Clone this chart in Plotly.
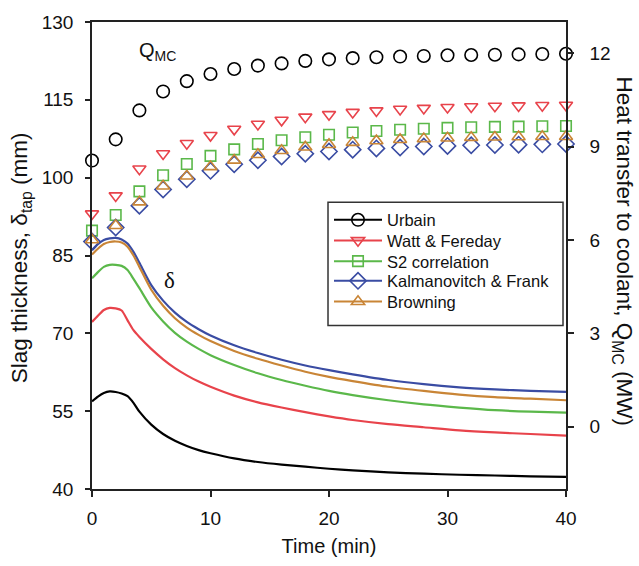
import plotly.graph_objects as go

# Slag thickness at tap (left axis, mm), continuous model curves
t_line = [0, 0.5, 1, 1.5, 2, 2.5, 3, 3.5, 4, 5, 6, 7, 8, 9, 10, 12, 14, 16, 18,
          20, 22, 25, 28, 31, 34, 37, 40]
delta_urbain = [56.9, 57.8, 58.5, 58.8, 58.7, 58.4, 57.9, 56.6, 54.9, 52.4, 50.6,
                49.3, 48.3, 47.5, 46.9, 45.9, 45.2, 44.7, 44.3, 43.9, 43.6, 43.2,
                42.95, 42.75, 42.6, 42.45, 42.35]
delta_watt = [72.2, 73.4, 74.5, 74.9, 74.8, 74.4, 72.5, 70.6, 69.3, 67.0, 65.0,
              63.3, 61.9, 60.7, 59.7, 58.0, 56.7, 55.7, 54.8, 54.0, 53.3, 52.5,
              51.9, 51.3, 50.9, 50.6, 50.3]
delta_s2 = [80.6, 81.8, 82.8, 83.2, 83.2, 83.0, 82.2, 80.5, 78.7, 75.0, 72.3,
            70.1, 68.4, 67.0, 65.8, 63.9, 62.3, 61.0, 59.9, 58.9, 58.1, 57.1,
            56.3, 55.7, 55.2, 54.9, 54.7]
delta_kalman = [86.0, 87.2, 88.0, 88.3, 88.4, 88.1, 87.3, 85.7, 83.6, 79.3, 76.3,
                74.0, 72.2, 70.8, 69.6, 67.7, 66.2, 64.9, 63.8, 62.9, 62.1, 61.0,
                60.2, 59.6, 59.2, 58.9, 58.7]
delta_browning = [85.2, 86.3, 87.2, 87.6, 87.7, 87.5, 86.7, 85.0, 82.8, 78.4, 75.3,
                  72.9, 71.1, 69.7, 68.5, 66.6, 65.1, 63.8, 62.6, 61.6, 60.8, 59.7,
                  58.9, 58.2, 57.7, 57.4, 57.1]

# Heat transfer to coolant (right axis, MW), sampled every 2 min
t_q = list(range(0, 41, 2))
q_urbain = [8.55, 9.23, 10.16, 10.77, 11.1, 11.33, 11.49, 11.6, 11.67, 11.75, 11.8,
            11.84, 11.87, 11.89, 11.91, 11.93, 11.94, 11.95, 11.96, 11.97, 11.98]
q_watt = [6.84, 7.42, 8.28, 8.77, 9.1, 9.36, 9.56, 9.72, 9.85, 9.95, 10.03, 10.1,
          10.15, 10.2, 10.23, 10.26, 10.28, 10.3, 10.31, 10.32, 10.33]
q_s2 = [6.3, 6.8, 7.56, 8.08, 8.44, 8.7, 8.91, 9.08, 9.2, 9.3, 9.38, 9.45, 9.5,
        9.54, 9.57, 9.6, 9.62, 9.63, 9.64, 9.65, 9.66]
q_kalman = [5.95, 6.4, 7.1, 7.62, 7.95, 8.22, 8.43, 8.56, 8.68, 8.77, 8.84, 8.9,
            8.94, 8.97, 9.0, 9.02, 9.04, 9.05, 9.06, 9.07, 9.08]
q_browning = [6.0, 6.46, 7.22, 7.73, 8.05, 8.35, 8.56, 8.74, 8.87, 8.98, 9.06, 9.13,
              9.18, 9.22, 9.25, 9.27, 9.29, 9.3, 9.31, 9.32, 9.32]

names = ["Urbain", "Watt & Fereday", "S2 correlation", "Kalmanovitch & Frank", "Browning"]
colors = ["#000000", "#e8434b", "#5bb84a", "#3a4ca3", "#c98536"]
symbols = ["circle-open", "triangle-down-open", "square-open", "diamond-open", "triangle-up-open"]
sizes = [12.5, 11.5, 10.5, 12.5, 11.5]
deltas = [delta_urbain, delta_watt, delta_s2, delta_kalman, delta_browning]
qs = [q_urbain, q_watt, q_s2, q_kalman, q_browning]

FONT = "Liberation Sans, Arial, sans-serif"
legend_ids = ["legend", "legend2", "legend3", "legend4", "legend5"]
legend_y = [0.5759, 0.5316, 0.4873, 0.4451, 0.4008]

fig = go.Figure()

for name, col, d in zip(names, colors, deltas):
    fig.add_trace(go.Scatter(x=t_line, y=d, mode="lines", yaxis="y",
                             line=dict(color=col, width=2.2, shape="spline", smoothing=0.7),
                             showlegend=False, name=name, hoverinfo="skip"))

for name, col, sym, sz, q in zip(names, colors, symbols, sizes, qs):
    fig.add_trace(go.Scatter(x=t_q, y=q, mode="markers", yaxis="y2",
                             marker=dict(symbol=sym, size=sz, color=col,
                                         line=dict(color=col, width=1.6)),
                             cliponaxis=False, showlegend=False, name=name))

# legend entries (line with marker), one per legend so the rows can be spaced freely
for name, col, sym, sz, lid in zip(names, colors, symbols, sizes, legend_ids):
    fig.add_trace(go.Scatter(x=[None], y=[None], mode="lines+markers", name=name,
                             legend=lid,
                             line=dict(color=col, width=2),
                             marker=dict(symbol=sym, size=sz, color=col,
                                         line=dict(color=col, width=1.6))))

layout_legends = {}
for lid, ly in zip(legend_ids, legend_y):
    layout_legends[lid] = dict(x=0.5, y=ly, xanchor="left", yanchor="middle",
                               bgcolor="rgba(0,0,0,0)", borderwidth=0,
                               itemwidth=48,
                               font=dict(size=16.5, color="#111", family=FONT))

fig.update_layout(
    width=639, height=566,
    margin=dict(l=92, r=73, t=15, b=77),
    paper_bgcolor="white", plot_bgcolor="white",
    font=dict(family=FONT, size=19, color="#111"),
    xaxis=dict(range=[0, 40], tickvals=[0, 10, 20, 30, 40], showgrid=False,
               zeroline=False, showline=True, linecolor="#222", linewidth=1.5,
               mirror=True, ticks="outside", ticklen=6, tickwidth=1.5,
               tickcolor="#222", ticklabelstandoff=5,
               title=dict(text="Time (min)", font=dict(size=20), standoff=11)),
    yaxis=dict(range=[40, 130], tickvals=[40, 55, 70, 85, 100, 115, 130],
               showgrid=False, zeroline=False, showline=True, linecolor="#222",
               linewidth=1.5, ticks="outside", ticklen=5, tickwidth=1.5,
               tickcolor="#222", ticklabelstandoff=8),
    yaxis2=dict(range=[-2, 13], tickvals=[0, 3, 6, 9, 12], overlaying="y",
                side="right", showgrid=False, zeroline=False, showline=True,
                linecolor="#222", linewidth=1.5, ticks="outside", ticklen=6,
                tickwidth=1.5, tickcolor="#222", ticklabelstandoff=12),
    showlegend=True,
    **layout_legends,
)

# legend frame
fig.add_shape(type="rect", xref="paper", yref="paper", x0=0.4979, x1=0.9937,
              y0=0.3502, y1=0.6139, line=dict(color="#333", width=1.5),
              fillcolor="white", layer="below")

fig.add_annotation(text="Slag thickness, δ<sub>tap</sub> (mm)", xref="paper", yref="paper",
                   x=-0.148, y=0.496, showarrow=False, textangle=-90,
                   font=dict(size=22.5, family=FONT), xanchor="center", yanchor="middle")
fig.add_annotation(text="Heat transfer to coolant, Q<sub>MC</sub> (MW)", xref="paper",
                   yref="paper", x=1.121, y=0.508, showarrow=False, textangle=90,
                   font=dict(size=22.5, family=FONT), xanchor="center", yanchor="middle")
fig.add_annotation(text="Q<sub>MC</sub>", x=5.5, y=12.05, xref="x", yref="y2",
                   showarrow=False, font=dict(size=20, family=FONT))
fig.add_annotation(text="δ", x=6.5, y=80.2, xref="x", yref="y",
                   showarrow=False, font=dict(size=23, family="Liberation Serif, Times New Roman, serif"))

fig.write_html("out.html")
